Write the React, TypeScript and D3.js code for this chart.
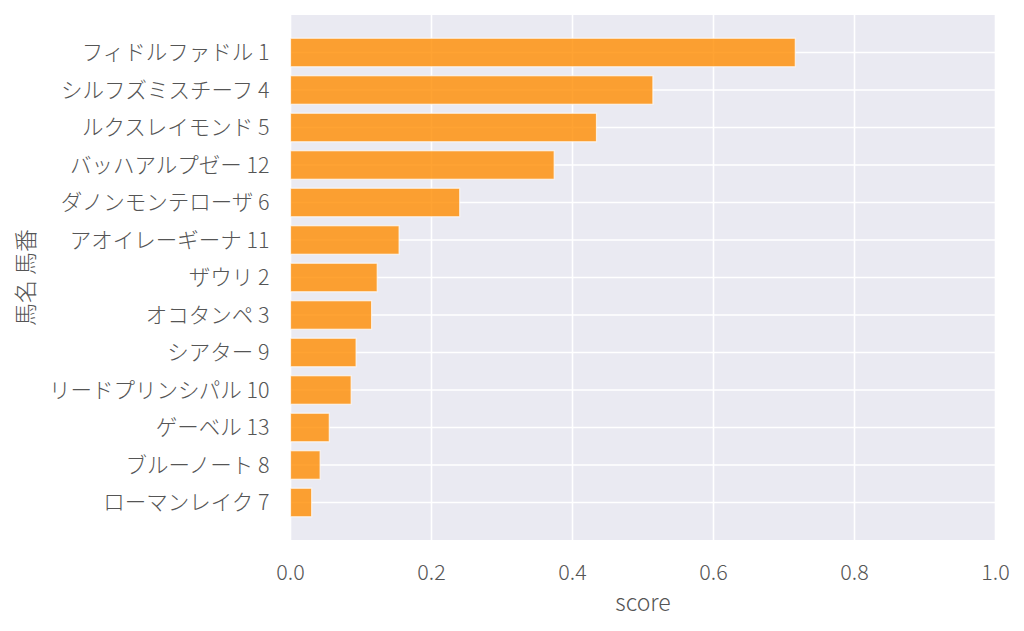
import React from "react";
import * as d3 from "d3";

const horses = [
  "フィドルファドル 1",
  "シルフズミスチーフ 4",
  "ルクスレイモンド 5",
  "バッハアルプゼー 12",
  "ダノンモンテローザ 6",
  "アオイレーギーナ 11",
  "ザウリ 2",
  "オコタンペ 3",
  "シアター 9",
  "リードプリンシパル 10",
  "ゲーベル 13",
  "ブルーノート 8",
  "ローマンレイク 7",
];
const scores = [0.716, 0.514, 0.434, 0.374, 0.24, 0.154, 0.123, 0.115, 0.093, 0.086, 0.055, 0.042, 0.03];
const xTicks = [0, 0.2, 0.4, 0.6, 0.8, 1.0];

const W = 1024;
const H = 631;
const M = { left: 290.5, right: 28.5, top: 15, bottom: 91 };
const FONT = "'Noto Sans CJK JP Light', 'Noto Sans CJK JP DemiLight', 'Noto Sans CJK JP', sans-serif";
const TXT = "#555";

export default function App() {
  const x = d3.scaleLinear().domain([0, 1]).range([M.left, W - M.right]);
  const y = d3.scaleLinear().domain([-1, horses.length]).range([M.top, H - M.bottom]);
  const step = y(1) - y(0);
  const bh = step * 0.76;
  return (
    <svg width={W} height={H} style={{ position: "absolute", left: 0, top: 0 }} fontFamily={FONT}>
      <rect x={0} y={0} width={W} height={H} fill="#fff" />
      <rect x={x(0)} y={y(-1)} width={x(1) - x(0)} height={y(horses.length) - y(-1)} fill="#eaeaf2" />
      {xTicks.map((t) => (
        <line key={"gx" + t} x1={x(t)} x2={x(t)} y1={y(-1)} y2={y(horses.length)} stroke="#fff" strokeWidth={1.6} />
      ))}
      {horses.map((h, i) => (
        <line key={"gy" + i} x1={x(0)} x2={x(1)} y1={y(i)} y2={y(i)} stroke="#fff" strokeWidth={1.6} />
      ))}
      {horses.map((h, i) => (
        <rect
          key={"b" + i}
          x={x(0)}
          y={y(i) - bh / 2}
          width={x(scores[i]) - x(0)}
          height={bh}
          fill="darkorange"
          fillOpacity={0.8}
          stroke="#fff"
          strokeOpacity={0.7}
          strokeWidth={1.2}
        />
      ))}
      {horses.map((h, i) => (
        <text key={"t" + i} x={x(0) - 21} y={y(i)} dy="0.35em" textAnchor="end" fontSize={21.5} fontWeight={200} fill={TXT}>
          {h}
        </text>
      ))}
      {xTicks.map((t) => (
        <text key={"tx" + t} x={x(t)} y={572} dy="0.35em" textAnchor="middle" fontSize={21.5} fontWeight={200} fill={TXT}>
          {d3.format(".1f")(t)}
        </text>
      ))}
      <text x={(x(0) + x(1)) / 2} y={603} dy="0.35em" textAnchor="middle" fontSize={23} fontWeight={200} fill={TXT}>
        score
      </text>
      <text
        transform={`translate(26, ${(y(-1) + y(horses.length)) / 2}) rotate(-90)`}
        dy="0.35em"
        textAnchor="middle"
        fontSize={23}
        fontWeight={200}
        fill={TXT}
      >
        馬名 馬番
      </text>
    </svg>
  );
}
